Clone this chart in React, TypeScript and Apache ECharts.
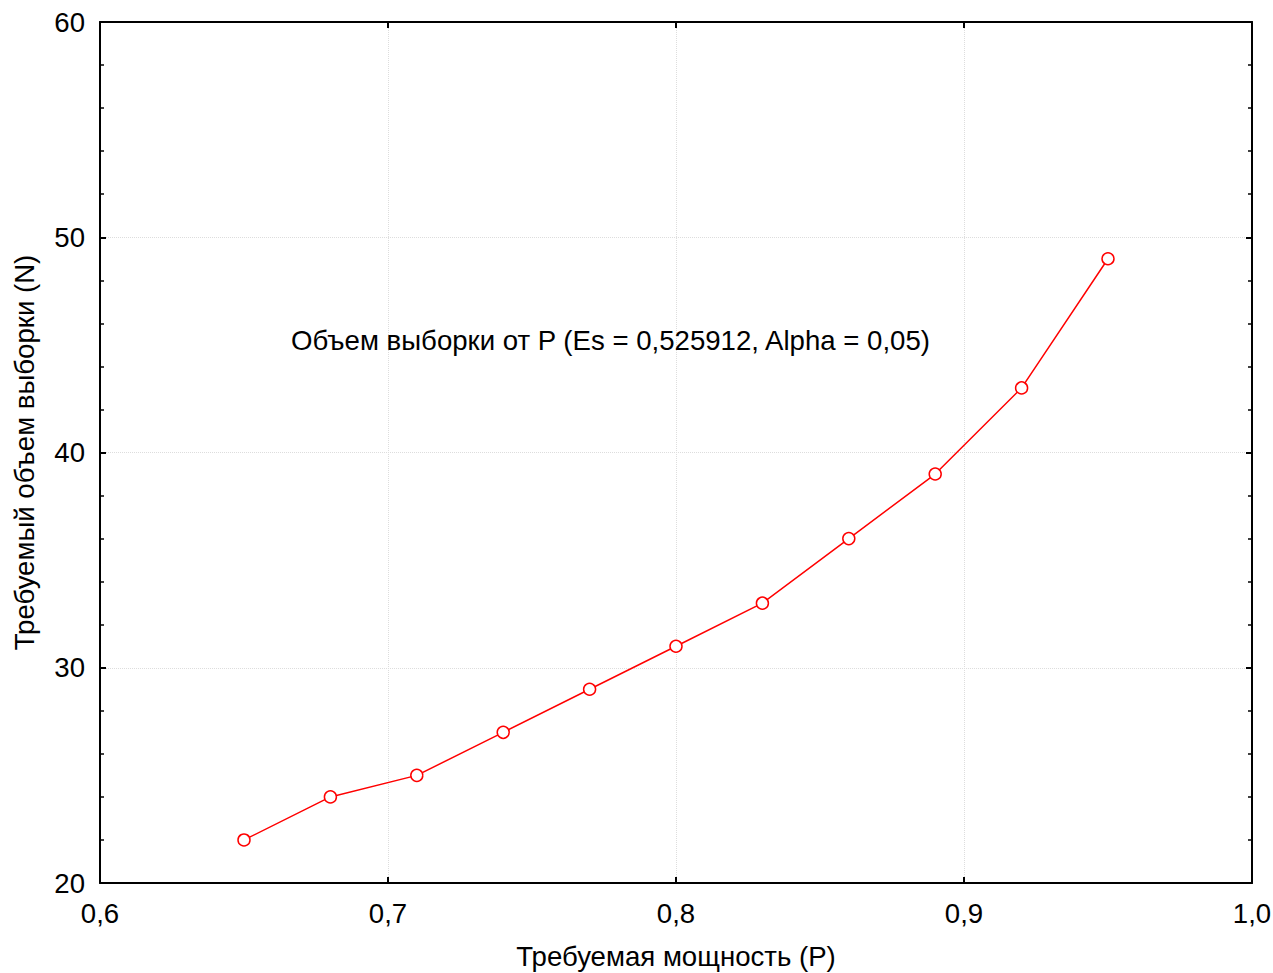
import React, { useEffect, useRef } from "react";
import * as echarts from "echarts";

const powerValues = [0.65, 0.68, 0.71, 0.74, 0.77, 0.8, 0.83, 0.86, 0.89, 0.92, 0.95];
const sampleSizes = [22, 24, 25, 27, 29, 31, 33, 36, 39, 43, 49];
const xAxisTitle = "Требуемая мощность (P)";
const yAxisTitle = "Требуемый объем выборки (N)";
const annotation = "Объем выборки от P (Es = 0,525912, Alpha = 0,05)";

const FONT = "'Liberation Sans', Arial, sans-serif";
const FS = 27.6;

export default function App() {
  const ref = useRef<HTMLDivElement>(null);
  useEffect(() => {
    if (!ref.current) return;
    const chart = echarts.init(ref.current, undefined, { renderer: "svg" });
    const axisLine = { show: true, lineStyle: { color: "#000", width: 2 } };
    const commonY = {
      type: "value",
      min: 20,
      max: 60,
      interval: 10,
      axisLine,
      axisTick: { show: true, inside: true, length: 6, lineStyle: { color: "#000", width: 2 } },
      minorTick: { show: true, splitNumber: 5, length: 4, lineStyle: { color: "#000", width: 1.5 } },
    };
    chart.setOption({
      animation: false,
      backgroundColor: "#fff",
      textStyle: { fontFamily: FONT },
      grid: {
        left: 100,
        right: 21,
        top: 22,
        bottom: 90,
        containLabel: false,
        outerBoundsMode: "none",
      },
      title: {
        text: annotation,
        left: 291,
        top: 326,
        textStyle: { fontFamily: FONT, fontSize: FS, fontWeight: "normal", color: "#000" },
        padding: 0,
      },
      xAxis: [
        {
          type: "value",
          position: "bottom",
          min: 0.6,
          max: 1.0,
          interval: 0.1,
          name: xAxisTitle,
          nameLocation: "middle",
          nameGap: 59,
          nameTextStyle: { fontFamily: FONT, fontSize: FS, color: "#000" },
          axisLine,
          axisTick: { show: true, inside: true, length: 6, lineStyle: { color: "#000", width: 2 } },
          axisLabel: {
            fontFamily: FONT,
            fontSize: FS,
            color: "#000",
            margin: 16,
            formatter: (v: number) => v.toFixed(1).replace(".", ","),
          },
          splitLine: { show: true, lineStyle: { color: "#ddd", type: "dotted", width: 1 } },
        },
        {
          type: "value",
          position: "top",
          min: 0.6,
          max: 1.0,
          interval: 0.1,
          axisLine,
          axisTick: { show: true, inside: true, length: 6, lineStyle: { color: "#000", width: 2 } },
          axisLabel: { show: false },
          splitLine: { show: false },
        },
      ],
      yAxis: [
        {
          ...commonY,
          position: "left",
          name: yAxisTitle,
          nameLocation: "middle",
          nameGap: 62,
          nameRotate: 90,
          nameTextStyle: { fontFamily: FONT, fontSize: FS, color: "#000" },
          axisLabel: { fontFamily: FONT, fontSize: FS, color: "#000", margin: 15 },
          splitLine: { show: true, lineStyle: { color: "#ddd", type: "dotted", width: 1 } },
        },
        {
          ...commonY,
          position: "right",
          axisLabel: { show: false },
          splitLine: { show: false },
        },
      ],
      series: [
        {
          type: "line",
          xAxisIndex: 0,
          yAxisIndex: 0,
          data: powerValues.map((p, i) => [p, sampleSizes[i]]),
          symbol: "circle",
          symbolSize: 12,
          itemStyle: { color: "#fff", borderColor: "#ff0000", borderWidth: 1.5 },
          lineStyle: { color: "#ff0000", width: 1.5 },
        },
      ],
    });
    return () => chart.dispose();
  }, []);
  return (
    <div
      ref={ref}
      style={{ position: "fixed", left: 0, top: 0, width: 1273, height: 973 }}
    />
  );
}
